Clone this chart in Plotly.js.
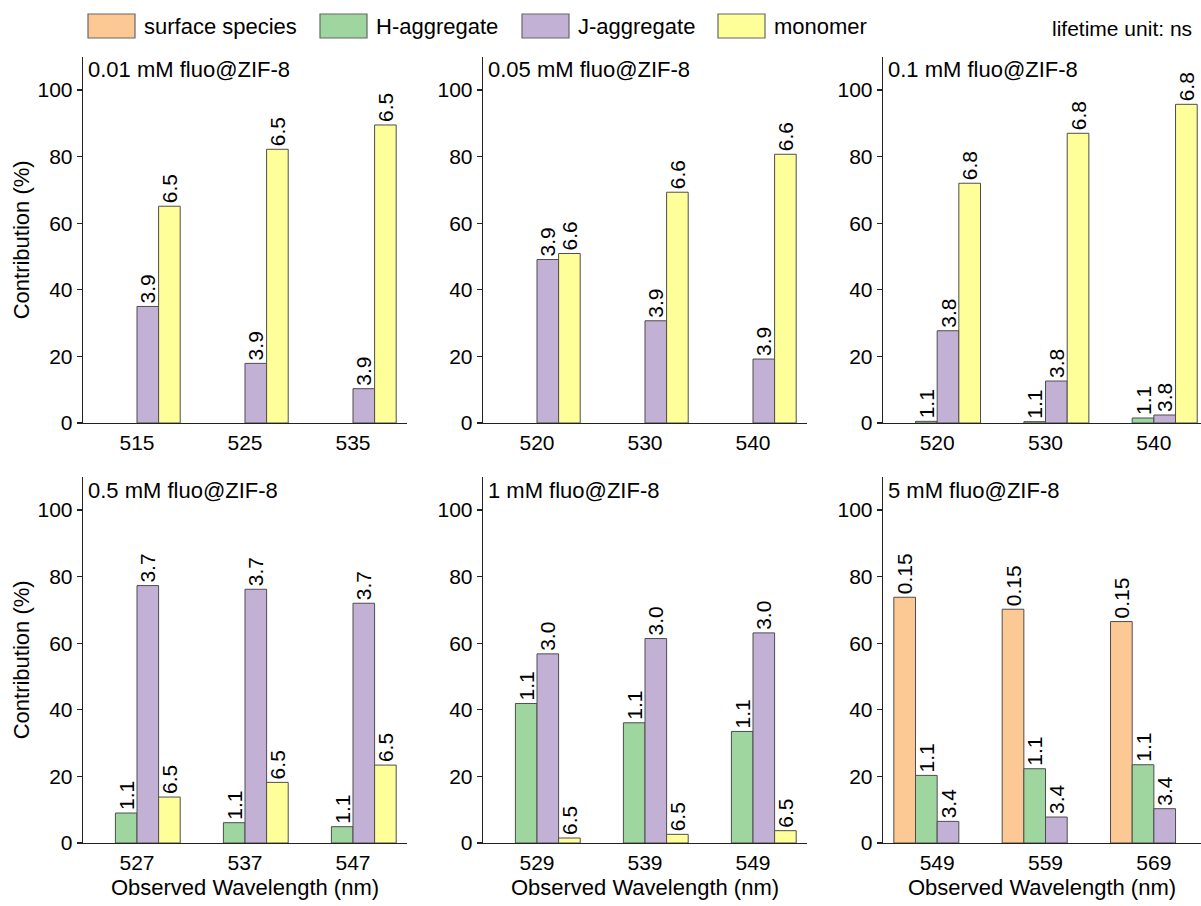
<!DOCTYPE html>
<html>
<head>
<meta charset="utf-8">
<script src="https://cdn.plot.ly/plotly-3.0.1.min.js"></script>
<style>
  html, body { margin: 0; padding: 0; background: #fff; }
  #chart { width: 1201px; height: 906px; }
</style>
</head>
<body>
<div id="chart"></div>
<script>
// Component contributions (%) and fitted lifetimes (ns) of fluo@ZIF-8 samples
const seriesNames = ['surface species', 'H-aggregate', 'J-aggregate', 'monomer'];
const seriesColors = ['#fcc995', '#9fd69f', '#c2b1d5', '#ffff99'];

const panelTitles = [
  '0.01 mM fluo@ZIF-8', '0.05 mM fluo@ZIF-8', '0.1 mM fluo@ZIF-8',
  '0.5 mM fluo@ZIF-8', '1 mM fluo@ZIF-8', '5 mM fluo@ZIF-8'
];

// observed wavelengths (nm) per panel
const wl_001 = ['515', '525', '535'];
const wl_005 = ['520', '530', '540'];
const wl_01  = ['520', '530', '540'];
const wl_05  = ['527', '537', '547'];
const wl_1   = ['529', '539', '549'];
const wl_5   = ['549', '559', '569'];

// contributions per series: [surface species, H-aggregate, J-aggregate, monomer]
const pct_001 = [[null, null, null], [null, null, null], [35.0, 17.9, 10.3], [65.1, 82.2, 89.5]];
const pct_005 = [[null, null, null], [null, null, null], [49.1, 30.7, 19.2], [50.9, 69.3, 80.7]];
const pct_01  = [[null, null, null], [0.5, 0.4, 1.5], [27.7, 12.6, 2.4], [72.0, 87.0, 95.7]];
const pct_05  = [[null, null, null], [9.0, 6.1, 4.9], [77.3, 76.2, 72.0], [13.8, 18.2, 23.4]];
const pct_1   = [[null, null, null], [41.9, 36.1, 33.5], [56.8, 61.4, 63.1], [1.5, 2.6, 3.7]];
const pct_5   = [[73.8, 70.2, 66.5], [20.3, 22.3, 23.5], [6.5, 7.8, 10.3], [null, null, null]];

// lifetimes (ns) per series
const life_001 = [null, null, '3.9', '6.5'];
const life_005 = [null, null, '3.9', '6.6'];
const life_01  = [null, '1.1', '3.8', '6.8'];
const life_05  = [null, '1.1', '3.7', '6.5'];
const life_1   = [null, '1.1', '3.0', '6.5'];
const life_5   = ['0.15', '1.1', '3.4', null];

const yTicks = [0, 20, 40, 60, 80, 100];

const panels = [
  { wl: wl_001, pct: pct_001, life: life_001 },
  { wl: wl_005, pct: pct_005, life: life_005 },
  { wl: wl_01,  pct: pct_01,  life: life_01 },
  { wl: wl_05,  pct: pct_05,  life: life_05 },
  { wl: wl_1,   pct: pct_1,   life: life_1 },
  { wl: wl_5,   pct: pct_5,   life: life_5 }
];

const W = 1201, H = 906;
const px = x => x / W;
const py = y => 1 - y / H;
const FONT = 'Arial, "Liberation Sans", sans-serif';

const colDomains = [[px(83), px(407)], [px(483), px(807)], [px(883), 1]];
const rowDomains = [[py(423), py(56.7)], [py(843), py(476.7)]];

const traces = [];
const layout = {
  width: W, height: H,
  margin: { l: 0, r: 0, t: 0, b: 0 },
  paper_bgcolor: '#fff', plot_bgcolor: '#fff',
  font: { family: FONT, size: 21, color: '#000' },
  barmode: 'group', bargap: 0.2, bargroupgap: 0,
  showlegend: false,
  annotations: [], shapes: []
};

panels.forEach((p, i) => {
  const n = i + 1;
  const xa = 'x' + (n === 1 ? '' : n);
  const ya = 'y' + (n === 1 ? '' : n);
  const col = i % 3, row = Math.floor(i / 3);

  p.pct.forEach((vals, s) => {
    traces.push({
      type: 'bar', name: seriesNames[s],
      x: p.wl, y: vals,
      xaxis: xa, yaxis: ya,
      marker: { color: seriesColors[s], line: { color: '#4d4d4d', width: 1 } },
      text: vals.map(v => (v == null || p.life[s] == null) ? '' : p.life[s]),
      textposition: 'outside', textangle: -90, constraintext: 'none',
      textfont: { family: FONT, size: 21, color: '#000' },
      cliponaxis: false, hoverinfo: 'x+y+name'
    });
  });

  layout['xaxis' + (n === 1 ? '' : n)] = {
    domain: colDomains[col], anchor: ya, type: 'category',
    range: col === 2 ? [-0.5, 2.435] : [-0.5, 2.5],
    showline: true, linecolor: '#222', linewidth: 1.3,
    ticks: '', showgrid: false, zeroline: false,
    tickfont: { family: FONT, size: 21 },
    title: row === 1 ? { text: 'Observed Wavelength (nm)', font: { family: FONT, size: 22 }, standoff: 7 } : { text: '' }
  };
  layout['yaxis' + (n === 1 ? '' : n)] = {
    domain: rowDomains[row], anchor: xa,
    range: [0, 110], tickvals: yTicks,
    showline: true, linecolor: '#222', linewidth: 1.3,
    ticks: 'outside', ticklen: 5, tickwidth: 1.3, tickcolor: '#222',
    showgrid: false, zeroline: false,
    tickfont: { family: FONT, size: 21 },
    title: col === 0 ? { text: 'Contribution (%)', font: { family: FONT, size: 22 }, standoff: 1 } : { text: '' }
  };

  layout.annotations.push({
    xref: 'paper', yref: 'paper',
    x: colDomains[col][0] + px(3), y: py(row === 0 ? 70 : 490),
    xanchor: 'left', yanchor: 'middle', showarrow: false,
    text: panelTitles[i], font: { family: FONT, size: 22 }
  });
});

// legend row across the top
const swatchX = [88, 320, 522, 718];
seriesNames.forEach((name, s) => {
  layout.shapes.push({
    type: 'rect', xref: 'paper', yref: 'paper',
    x0: px(swatchX[s]), x1: px(swatchX[s] + 47),
    y0: py(38), y1: py(14),
    fillcolor: seriesColors[s], line: { color: '#666', width: 1.2 }
  });
  layout.annotations.push({
    xref: 'paper', yref: 'paper',
    x: px(swatchX[s] + 54), y: py(26),
    xanchor: 'left', yanchor: 'middle', showarrow: false,
    text: name, font: { family: FONT, size: 22 }
  });
});
layout.annotations.push({
  xref: 'paper', yref: 'paper',
  x: px(1194), y: py(28),
  xanchor: 'right', yanchor: 'middle', showarrow: false,
  text: 'lifetime unit: ns', font: { family: FONT, size: 21 }
});

Plotly.newPlot('chart', traces, layout, { displayModeBar: false, staticPlot: true });
</script>
</body>
</html>
